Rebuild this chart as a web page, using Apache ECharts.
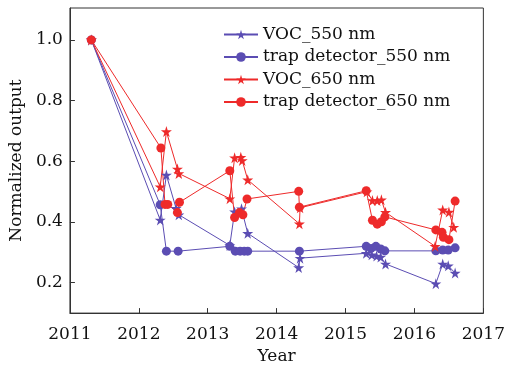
<!DOCTYPE html>
<html>
<head>
<meta charset="utf-8">
<script src="https://cdn.jsdelivr.net/npm/echarts@6/dist/echarts.min.js"></script>
<style>
html,body{margin:0;padding:0;background:#fff;}
#chart{width:508px;height:370px;}
</style>
</head>
<body>
<div id="chart"></div>
<script>
// ---- data ----
var seriesNames = ['VOC_550 nm', 'trap detector_550 nm', 'VOC_650 nm', 'trap detector_650 nm'];

var voc550Years  = [2011.31, 2012.31, 2012.40, 2012.54, 2012.58, 2013.32, 2013.39, 2013.49, 2013.58, 2014.32, 2014.34, 2015.30, 2015.38, 2015.45, 2015.51, 2015.58, 2016.31, 2016.41, 2016.49, 2016.59];
var voc550Values = [1.0, 0.407, 0.555, 0.445, 0.424, 0.323, 0.434, 0.444, 0.363, 0.250, 0.281, 0.297, 0.292, 0.288, 0.285, 0.262, 0.197, 0.262, 0.256, 0.232];

var trap550Years  = [2011.31, 2012.31, 2012.40, 2012.57, 2013.32, 2013.40, 2013.47, 2013.53, 2013.58, 2014.33, 2015.30, 2015.37, 2015.44, 2015.51, 2015.57, 2016.31, 2016.41, 2016.49, 2016.59];
var trap550Values = [1.0, 0.457, 0.304, 0.304, 0.320, 0.304, 0.304, 0.304, 0.304, 0.304, 0.320, 0.313, 0.320, 0.311, 0.305, 0.305, 0.308, 0.308, 0.315];

var voc650Years  = [2011.31, 2012.31, 2012.40, 2012.56, 2012.58, 2013.32, 2013.39, 2013.48, 2013.50, 2013.58, 2014.33, 2014.34, 2015.31, 2015.39, 2015.46, 2015.52, 2015.58, 2016.30, 2016.41, 2016.50, 2016.57];
var voc650Values = [1.0, 0.516, 0.698, 0.575, 0.560, 0.477, 0.612, 0.613, 0.603, 0.539, 0.394, 0.447, 0.500, 0.471, 0.471, 0.473, 0.432, 0.320, 0.440, 0.433, 0.383];

var trap650Years  = [2011.31, 2012.32, 2012.38, 2012.42, 2012.56, 2012.59, 2013.32, 2013.39, 2013.46, 2013.51, 2013.57, 2014.32, 2014.33, 2015.30, 2015.39, 2015.46, 2015.52, 2015.57, 2016.31, 2016.40, 2016.42, 2016.50, 2016.59];
var trap650Values = [1.0, 0.644, 0.458, 0.458, 0.431, 0.465, 0.569, 0.415, 0.431, 0.424, 0.476, 0.501, 0.449, 0.503, 0.406, 0.393, 0.401, 0.417, 0.374, 0.366, 0.350, 0.342, 0.469];

var xTicks = [2011, 2012, 2013, 2014, 2015, 2016, 2017];
var yTicks = [0.2, 0.4, 0.6, 0.8, 1.0];

// ---- chart ----
var BLUE = '#5b4db3';
var RED = '#ee2a2a';
var FONT = 'DejaVu Serif';
var STAR = 'path://M50,0 L61,35 L98,35 L68,57 L79,91 L50,70 L21,91 L32,57 L2,35 L39,35 Z';

function pairs(xs, ys) { return xs.map(function (x, i) { return [x, ys[i]]; }); }

function mk(name, xs, ys, color, symbol, size) {
  return {
    name: name, type: 'line', data: pairs(xs, ys),
    symbol: symbol, symbolSize: size, showSymbol: true,
    lineStyle: { color: color, width: 1 },
    itemStyle: { color: color, borderWidth: 0 },
    emphasis: { disabled: true },
    animation: false
  };
}

var chart = echarts.init(document.getElementById('chart'), null, { renderer: 'canvas' });
chart.setOption({
  animation: false,
  backgroundColor: '#fff',
  grid: { left: 69, right: 23, top: 8, bottom: 51, show: true, borderColor: '#333', borderWidth: 1, backgroundColor: 'transparent' },
  legend: {
    orient: 'vertical', left: 218, top: 21,
    itemWidth: 34, itemHeight: 12, itemGap: 5.5,
    textStyle: { fontFamily: FONT, fontSize: 17, color: '#111', lineHeight: 16 },
    data: seriesNames
  },
  xAxis: {
    type: 'value', min: 2011, max: 2017, interval: 1,
    name: 'Year', nameLocation: 'middle', nameGap: 33,
    nameTextStyle: { fontFamily: FONT, fontSize: 17, color: '#111' },
    axisLine: { show: true, lineStyle: { color: '#333', width: 1 } },
    axisTick: { show: true, inside: true, length: 5, lineStyle: { color: '#333' }, customValues: xTicks },
    axisLabel: { fontFamily: FONT, fontSize: 17, color: '#111', margin: 13, customValues: xTicks, formatter: function (v) { return String(Math.round(v)); } },
    splitLine: { show: false }
  },
  yAxis: {
    type: 'value', min: 0.1, max: 1.105,
    name: 'Normalized output', nameLocation: 'middle', nameGap: 44,
    nameTextStyle: { fontFamily: FONT, fontSize: 17, color: '#111' },
    axisLine: { show: true, lineStyle: { color: '#333', width: 1 } },
    axisTick: { show: true, inside: true, length: 5, lineStyle: { color: '#333' }, customValues: yTicks },
    axisLabel: { fontFamily: FONT, fontSize: 17, color: '#111', margin: 7, customValues: yTicks, formatter: function (v) { return v.toFixed(1); } },
    splitLine: { show: false }
  },
  series: [
    mk(seriesNames[0], voc550Years, voc550Values, BLUE, STAR, 11),
    mk(seriesNames[1], trap550Years, trap550Values, BLUE, 'circle', 9),
    mk(seriesNames[2], voc650Years, voc650Values, RED, STAR, 11),
    mk(seriesNames[3], trap650Years, trap650Values, RED, 'circle', 9)
  ]
});
</script>
</body>
</html>
